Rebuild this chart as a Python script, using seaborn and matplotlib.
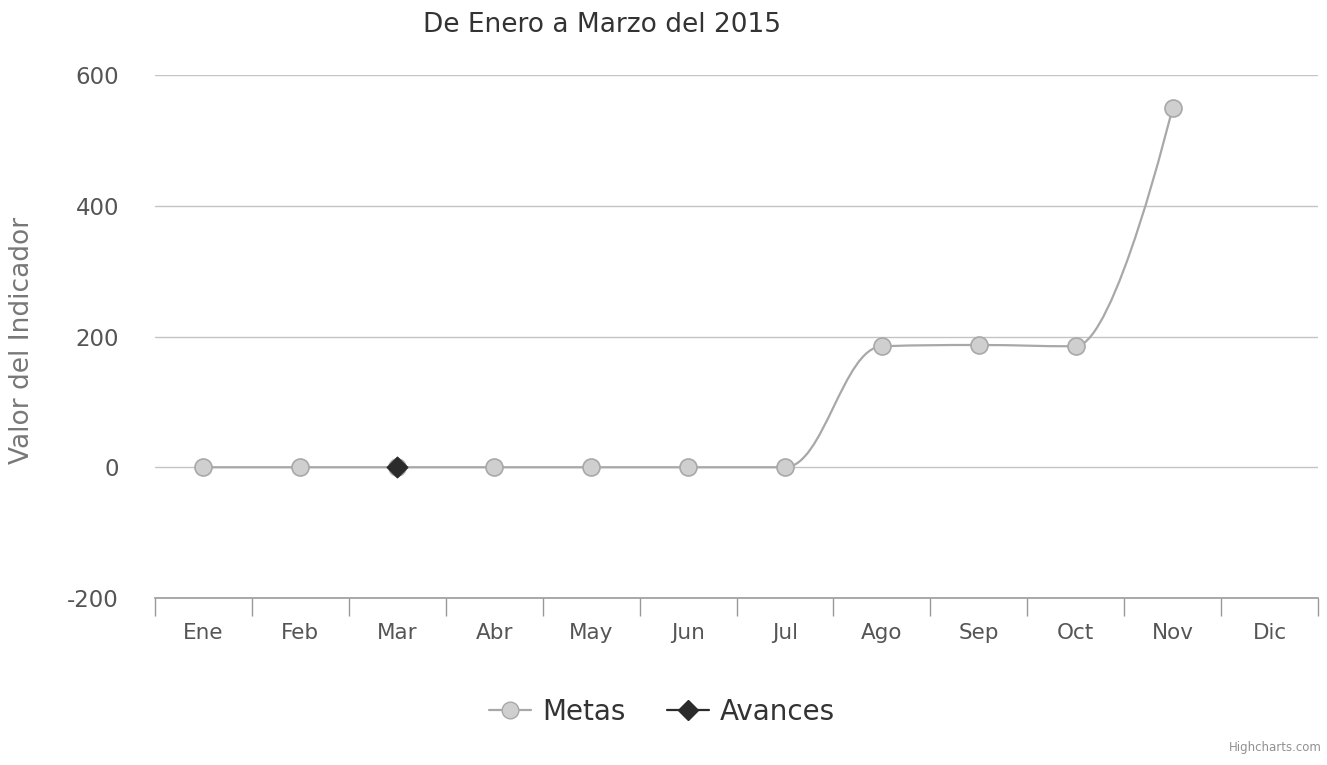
import numpy as np
import pandas as pd
import matplotlib
matplotlib.use("Agg")
import matplotlib.pyplot as plt
import seaborn as sns
from matplotlib.path import Path
from matplotlib.patches import PathPatch
from matplotlib.lines import Line2D

# ---- data ----
months = ["Ene", "Feb", "Mar", "Abr", "May", "Jun", "Jul", "Ago", "Sep", "Oct", "Nov", "Dic"]
metas = [0, 0, 0, 0, 0, 0, 0, 185, 187, 185, 550, None]
avances = [None, None, 0, None, None, None, None, None, None, None, None, None]
y_ticks = [-200, 0, 200, 400, 600]
title = "De Enero a Marzo del 2015"
y_label = "Valor del Indicador"

metas_color = "#a8a8a8"
avances_color = "#2b2b2b"

sns.set_theme(style="white")
plt.rcParams["font.family"] = ["DejaVu Sans"]

W, H = 1327, 765
fig = plt.figure(figsize=(W / 100, H / 100), dpi=100)
L, R, T, B = 155, 1318, 75, 598
ax = fig.add_axes([L / W, 1 - B / H, (R - L) / W, (B - T) / H])


def spline_path(xs, ys, smoothing=1.5):
    """Highcharts-style spline path through the given points."""
    pts = list(zip(xs, ys))
    n = len(pts)
    denom = smoothing + 1
    verts = [pts[0]]
    codes = [Path.MOVETO]
    conts = []
    for i in range(n):
        x, y = pts[i]
        if 0 < i < n - 1:
            lx, ly = pts[i - 1]
            nx, ny = pts[i + 1]
            lcx = (smoothing * x + lx) / denom
            lcy = (smoothing * y + ly) / denom
            rcx = (smoothing * x + nx) / denom
            rcy = (smoothing * y + ny) / denom
            if rcx != lcx:
                corr = ((rcy - lcy) * (rcx - x)) / (rcx - lcx) + y - rcy
                lcy += corr
                rcy += corr
            if lcy > ly and lcy > y:
                lcy = max(ly, y); rcy = 2 * y - lcy
            elif lcy < ly and lcy < y:
                lcy = min(ly, y); rcy = 2 * y - lcy
            if rcy > ny and rcy > y:
                rcy = max(ny, y); lcy = 2 * y - rcy
            elif rcy < ny and rcy < y:
                rcy = min(ny, y); lcy = 2 * y - rcy
            conts.append(((lcx, lcy), (rcx, rcy)))
        else:
            conts.append(((x, y), (x, y)))
    for i in range(1, n):
        verts += [conts[i - 1][1], conts[i][0], pts[i]]
        codes += [Path.CURVE4] * 3
    return Path(verts, codes)


df = pd.DataFrame({"mes": months, "x": np.arange(len(months)),
                   "Metas": metas, "Avances": avances})

# gridlines
for v in y_ticks[1:]:
    ax.axhline(v, color="#c4c4c4", lw=1.0, zorder=0)

# Metas spline
dm = df.dropna(subset=["Metas"])
path = spline_path(dm["x"].astype(float).tolist(), dm["Metas"].astype(float).tolist())
ax.add_patch(PathPatch(path, facecolor="none", edgecolor=metas_color, lw=1.6, zorder=2))

sns.scatterplot(data=dm, x="x", y="Metas", ax=ax, marker="o", s=150,
                color="#cfcfcf", edgecolor=metas_color, linewidth=1.2, zorder=3, legend=False)
da = df.dropna(subset=["Avances"])
sns.scatterplot(data=da, x="x", y="Avances", ax=ax, marker="D", s=110,
                color=avances_color, edgecolor=avances_color, linewidth=1, zorder=4, legend=False)

ax.set_xlim(-0.5, len(months) - 0.5)
ax.set_ylim(-200, 600)
ax.set_yticks(y_ticks)
ax.set_yticklabels([str(v) for v in y_ticks], fontsize=16.5, color="#555555")
ax.set_xticks(np.arange(len(months)))
ax.set_xticklabels(months, fontsize=15.5, color="#555555")
ax.tick_params(axis="x", which="major", bottom=False, length=0, pad=18)
ax.tick_params(axis="y", length=0, pad=26)
ax.set_xlabel("")
ax.set_ylabel("")
# tick marks between categories
ax.set_xticks(np.arange(-0.5, len(months)), minor=True)
ax.tick_params(axis="x", which="minor", bottom=True, length=13, width=1,
               color="#999999", direction="out")

for s in ["top", "right", "left"]:
    ax.spines[s].set_visible(False)
ax.spines["bottom"].set_color("#999999")
ax.spines["bottom"].set_linewidth(1.2)

fig.text(22 / W, 1 - 340 / H, y_label, rotation=90, ha="center", va="center",
         fontsize=19, color="#777777")
fig.text(602 / W, 1 - 25 / H, title, ha="center", va="center", fontsize=19, color="#333333")

handles = [
    Line2D([0], [0], color=metas_color, lw=1.6, marker="o", markersize=12,
           markerfacecolor="#cfcfcf", markeredgecolor=metas_color),
    Line2D([0], [0], color=avances_color, lw=1.6, marker="D", markersize=10,
           markerfacecolor=avances_color, markeredgecolor=avances_color),
]
fig.legend(handles, ["Metas", "Avances"], loc="center", bbox_to_anchor=(662 / W, 1 - 712 / H),
           ncol=2, frameon=False, fontsize=20, handlelength=1.5, columnspacing=1.5,
           handletextpad=0.4, labelcolor="#333333")

fig.text(1322 / W, 1 - 748 / H, "Highcharts.com", ha="right", va="center",
         fontsize=8.5, color="#909090")

fig.savefig("out.png", dpi=100)
